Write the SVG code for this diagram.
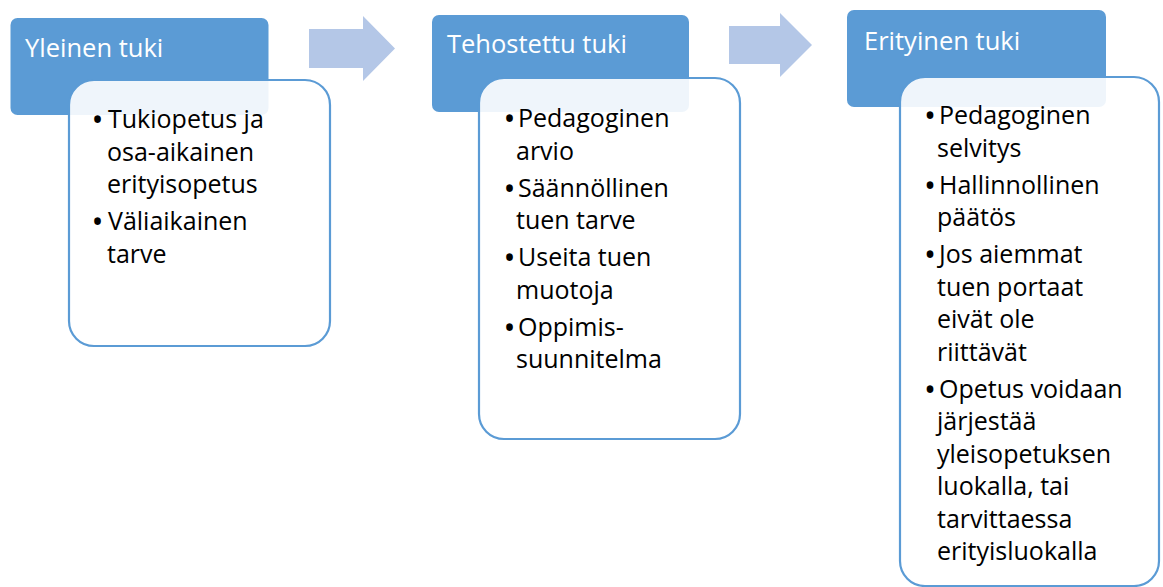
<svg xmlns="http://www.w3.org/2000/svg" width="1163" height="587" viewBox="0 0 1163 587">
<style>
.hdr{fill:#5B9BD5}
.box{fill:#FFFFFF;fill-opacity:0.9;stroke:#5B9BD5;stroke-width:2.2}
.ht{font-family:"Open Sans","DejaVu Sans",sans-serif;font-size:25.5px;fill:#FFFFFF}
.bt{font-family:"Open Sans","DejaVu Sans",sans-serif;font-size:25px;fill:#000000}
.bl{font-size:32px}
.arr{fill:#B4C7E7}
</style>
<rect width="1163" height="587" fill="#FFFFFF"/>
<g id="connectors">
<polygon class="arr" points="309,29 363,29 363,16 395,48.5 363,81 363,68 309,68"/>
<polygon class="arr" points="729,26 780,26 780,13 812,45 780,77 780,64 729,64"/>
</g>
<g id="node-yleinen">
<rect class="hdr" x="10.5" y="18" width="258" height="97" rx="7"/>
<text class="ht" x="25" y="57">Yleinen tuki</text>
<rect class="box" x="69" y="80" width="261" height="266" rx="25"/>
<text class="bt"><tspan class="bl" x="91.5" y="131">•</tspan><tspan x="108" y="128">Tukiopetus ja</tspan><tspan x="107" y="160.5">osa-aikainen</tspan><tspan x="107" y="193">erityisopetus</tspan></text>
<text class="bt"><tspan class="bl" x="91.5" y="233">•</tspan><tspan x="108" y="230">Väliaikainen</tspan><tspan x="107" y="262.5">tarve</tspan></text>
</g>
<g id="node-tehostettu">
<rect class="hdr" x="432" y="15" width="257" height="97" rx="7"/>
<text class="ht" x="447" y="53">Tehostettu tuki</text>
<rect class="box" x="479" y="78" width="261" height="361" rx="25"/>
<text class="bt"><tspan class="bl" x="503.5" y="130">•</tspan><tspan x="518" y="127">Pedagoginen</tspan><tspan x="516" y="159.5">arvio</tspan></text>
<text class="bt"><tspan class="bl" x="503.5" y="199.5">•</tspan><tspan x="518" y="196.5">Säännöllinen</tspan><tspan x="516" y="229">tuen tarve</tspan></text>
<text class="bt"><tspan class="bl" x="503.5" y="269">•</tspan><tspan x="518" y="266">Useita tuen</tspan><tspan x="516" y="298.5">muotoja</tspan></text>
<text class="bt"><tspan class="bl" x="503.5" y="338.5">•</tspan><tspan x="518" y="335.5">Oppimis-</tspan><tspan x="516" y="368">suunnitelma</tspan></text>
</g>
<g id="node-erityinen">
<rect class="hdr" x="847" y="10" width="259" height="97" rx="7"/>
<text class="ht" x="864" y="50">Erityinen tuki</text>
<rect class="box" x="900" y="77" width="259" height="509" rx="25"/>
<text class="bt"><tspan class="bl" x="924" y="127">•</tspan><tspan x="939" y="124">Pedagoginen</tspan><tspan x="937" y="156.5">selvitys</tspan></text>
<text class="bt"><tspan class="bl" x="924" y="196.5">•</tspan><tspan x="939" y="193.5">Hallinnollinen</tspan><tspan x="937" y="226">päätös</tspan></text>
<text class="bt"><tspan class="bl" x="924" y="266">•</tspan><tspan x="939" y="263">Jos aiemmat</tspan><tspan x="937" y="295.5">tuen portaat</tspan><tspan x="937" y="328">eivät ole</tspan><tspan x="937" y="360.5">riittävät</tspan></text>
<text class="bt"><tspan class="bl" x="924" y="400.5">•</tspan><tspan x="939" y="397.5">Opetus voidaan</tspan><tspan x="937" y="430">järjestää</tspan><tspan x="937" y="462.5">yleisopetuksen</tspan><tspan x="937" y="495">luokalla, tai</tspan><tspan x="937" y="527.5">tarvittaessa</tspan><tspan x="937" y="560">erityisluokalla</tspan></text>
</g>
</svg>
